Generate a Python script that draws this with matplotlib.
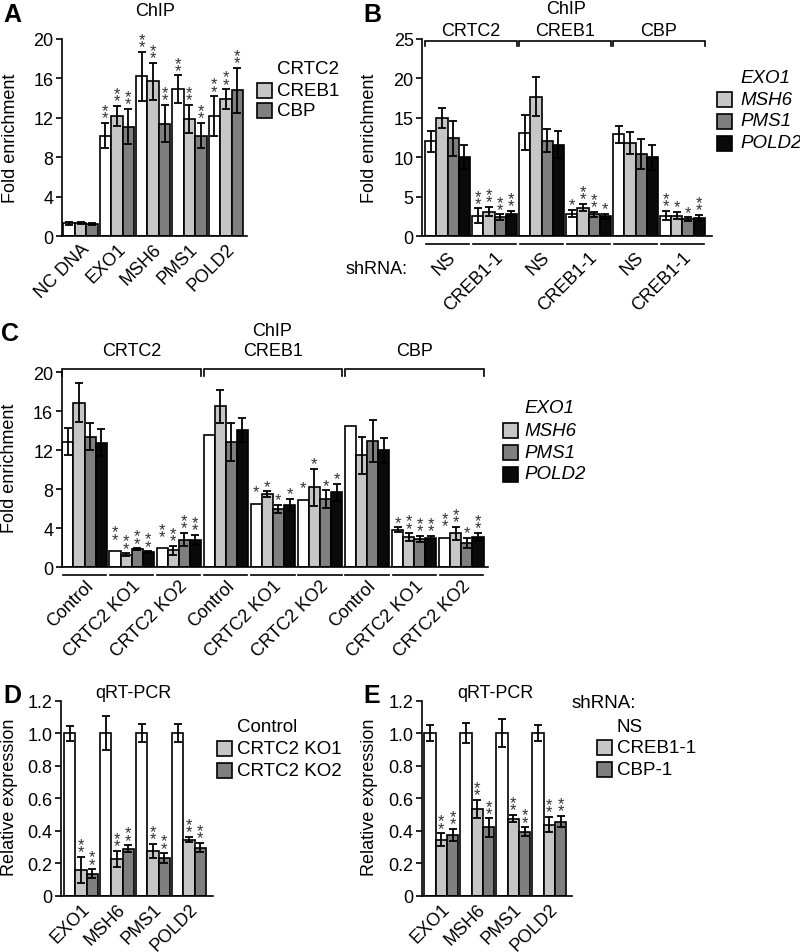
import matplotlib
matplotlib.use("Agg")
import matplotlib.pyplot as plt
from matplotlib.patches import Rectangle
from matplotlib.font_manager import FontProperties
import matplotlib.transforms as mtransforms
import numpy as np

plt.rcParams['font.family'] = ['Liberation Sans', 'DejaVu Sans']

# ---------------- data ----------------
A_groups = ["NC DNA", "EXO1", "MSH6", "PMS1", "POLD2"]
A_series = ["CRTC2", "CREB1", "CBP"]
A_vals = [[1.3, 10.2, 16.2, 14.9, 12.2],
          [1.3, 12.2, 15.7, 11.9, 13.9],
          [1.2, 11.1, 11.4, 10.2, 14.8]]
A_errs = [[0.15, 1.3, 2.5, 1.4, 2.0],
          [0.1, 1.0, 1.9, 1.4, 1.0],
          [0.1, 1.8, 1.9, 1.3, 2.3]]
A_stars = [["", "**", "**", "**", "**"],
           ["", "**", "**", "**", "**"],
           ["", "**", "**", "**", "**"]]

B_brackets = ["CRTC2", "CREB1", "CBP"]
B_groups = ["NS", "CREB1-1", "NS", "CREB1-1", "NS", "CREB1-1"]
B_series = ["EXO1", "MSH6", "PMS1", "POLD2"]
B_vals = [[12.0, 2.6, 13.1, 2.85, 12.9, 2.6],
          [15.0, 3.1, 17.7, 3.6, 11.8, 2.6],
          [12.4, 2.4, 12.1, 2.75, 10.4, 2.1],
          [10.0, 2.85, 11.6, 2.5, 10.0, 2.3]]
B_errs = [[1.3, 0.9, 2.2, 0.45, 1.1, 0.6],
          [1.3, 0.6, 2.5, 0.45, 1.4, 0.45],
          [2.2, 0.35, 1.5, 0.35, 1.9, 0.25],
          [1.5, 0.35, 1.75, 0.3, 1.6, 0.4]]
B_stars = [["", "**", "", "*", "", "**"],
           ["", "**", "", "**", "", "*"],
           ["", "**", "", "**", "", "*"],
           ["", "**", "", "*", "", "**"]]

C_brackets = ["CRTC2", "CREB1", "CBP"]
C_groups = ["Control", "CRTC2 KO1", "CRTC2 KO2"] * 3
C_series = ["EXO1", "MSH6", "PMS1", "POLD2"]
C_vals = [[12.9, 1.65, 1.95, 13.6, 6.5, 6.9, 14.5, 3.85, 3.0],
          [16.9, 1.3, 1.75, 16.5, 7.5, 8.2, 11.5, 3.1, 3.5],
          [13.4, 1.85, 2.85, 12.9, 6.0, 7.0, 12.95, 2.9, 2.5],
          [12.8, 1.55, 2.8, 14.1, 6.4, 7.7, 12.0, 3.05, 3.1]]
C_errs = [[1.4, 0, 0, 0, 0, 0, 0, 0.25, 0],
          [2.0, 0.15, 0.45, 1.7, 0.3, 1.9, 1.9, 0.4, 0.65],
          [1.4, 0.1, 0.7, 1.95, 0.4, 0.9, 2.15, 0.3, 0.55],
          [1.4, 0.1, 0.55, 1.2, 0.6, 0.85, 1.3, 0.15, 0.45]]
C_stars = [["", "**", "**", "", "*", "*", "", "*", "**"],
           ["", "**", "**", "", "*", "*", "", "**", "**"],
           ["", "**", "**", "", "*", "*", "", "**", "*"],
           ["", "**", "**", "", "*", "*", "", "**", "**"]]

D_groups = ["EXO1", "MSH6", "PMS1", "POLD2"]
D_series = ["Control", "CRTC2 KO1", "CRTC2 KO2"]
D_vals = [[1.0, 1.0, 1.0, 1.0],
          [0.16, 0.225, 0.275, 0.345],
          [0.135, 0.29, 0.232, 0.296]]
D_errs = [[0.045, 0.105, 0.055, 0.055],
          [0.08, 0.05, 0.045, 0.016],
          [0.028, 0.02, 0.03, 0.028]]
D_stars = [["", "", "", ""],
           ["**", "**", "**", "**"],
           ["**", "**", "**", "**"]]

E_groups = ["EXO1", "MSH6", "PMS1", "POLD2"]
E_series = ["NS", "CREB1-1", "CBP-1"]
E_vals = [[1.0, 1.0, 1.0, 1.0],
          [0.344, 0.536, 0.475, 0.438],
          [0.374, 0.42, 0.395, 0.456]]
E_errs = [[0.05, 0.06, 0.085, 0.05],
          [0.04, 0.055, 0.024, 0.048],
          [0.036, 0.056, 0.026, 0.036]]
E_stars = [["", "", "", ""],
           ["**", "**", "**", "**"],
           ["**", "**", "**", "**"]]

# ---------------- helpers ----------------
W, H = 800, 953
fig = plt.figure(figsize=(8, 9.53), dpi=100)
COL = ['white', '#c6c6c6', '#7f7f7f', '#0a0a0a']
LW = 1.2
TICK_FS = 13
LEG_FS = 13.5
STAR_FS = 12
STAR_BASE = -1.8      # points, offset of the lower star from the error-bar top
STAR_STEP_PX = 7.2    # pixels between stacked stars
STAR_NOERR = 5.0      # extra points when no error bar is drawn

# line spacing that puts stacked stars STAR_STEP_PX apart
_r = fig.canvas.get_renderer()
_, _lh, _ld = _r.get_text_width_height_descent(
    'lp', FontProperties(family='Liberation Sans', size=STAR_FS), ismath=False)
STAR_LS = max(0.05, (STAR_STEP_PX - _ld) / (_lh - _ld))


def fx(x):
    return x / W


def fy(y):
    return 1 - y / H


def px_axes(l, t, r, b):
    return fig.add_axes([l / W, 1 - b / H, (r - l) / W, (b - t) / H])


def style(ax, ymax, yticks, ylabels):
    ax.set_ylim(0, ymax)
    ax.spines[['top', 'right']].set_visible(False)
    for s in ['left', 'bottom']:
        ax.spines[s].set_linewidth(LW)
    ax.set_yticks(yticks, ylabels)
    ax.tick_params(axis='y', length=4, width=LW, labelsize=TICK_FS, pad=2)
    ax.tick_params(axis='x', length=0, labelsize=TICK_FS)
    ax.patch.set_alpha(0)


def draw_bars(ax, vals, errs, stars, offset, stride, xmax):
    n = len(vals)
    ng = len(vals[0])
    ax.set_xlim(0, xmax)
    starts = offset + stride * np.arange(ng)
    for i in range(n):
        x = starts + i + 0.5
        v = np.array(vals[i], float)
        e = np.array(errs[i], float)
        ax.bar(x, v, width=1.0, color=COL[i], edgecolor='black',
               linewidth=LW, zorder=2)
        m = e > 0
        ax.errorbar(x[m], v[m], yerr=e[m], fmt='none', ecolor='black',
                    elinewidth=1.3, capsize=3, capthick=1.3, zorder=3)
        for xi, vi, ei, s in zip(x, v, e, stars[i]):
            if not s:
                continue
            base = STAR_BASE + (0 if ei > 0 else STAR_NOERR)
            ax.annotate('\n'.join(s), xy=(xi, vi + ei), xytext=(0, base),
                        textcoords='offset points', ha='center',
                        va='bottom', fontsize=STAR_FS, linespacing=STAR_LS,
                        color='#333333', annotation_clip=False)
    return starts, starts + n, starts + n / 2


def yfrac(ypx, top, bot):
    return (bot - ypx) / (bot - top)


def brackets(ax, lefts, rights, labels, top, bot, ypx, tick_px, lab_px):
    tr = mtransforms.blended_transform_factory(ax.transData, ax.transAxes)
    for x0, x1, lab in zip(lefts, rights, labels):
        y0 = yfrac(ypx, top, bot)
        y1 = yfrac(ypx + tick_px, top, bot)
        ax.plot([x0, x0, x1, x1], [y1, y0, y0, y1], transform=tr,
                color='black', lw=LW, clip_on=False, solid_joinstyle='miter')
        ax.text((x0 + x1) / 2, yfrac(lab_px, top, bot), lab, transform=tr,
                ha='center', va='center', fontsize=TICK_FS)


def underlines(ax, lefts, rights, top, bot, ypx):
    tr = mtransforms.blended_transform_factory(ax.transData, ax.transAxes)
    y = yfrac(ypx, top, bot)
    for x0, x1 in zip(lefts, rights):
        ax.plot([x0 + 0.05, x1 - 0.05], [y, y], transform=tr, color='black',
                lw=LW, clip_on=False)


def legend(x_patch, x_text, ys, labels, italic=False):
    for i, (y, lab) in enumerate(zip(ys, labels)):
        if i > 0:
            fig.patches.append(Rectangle((fx(x_patch), fy(y + 7.5)), 15 / W,
                                         15 / H, transform=fig.transFigure,
                                         facecolor=COL[i], edgecolor='black',
                                         lw=LW))
        fig.text(fx(x_text), fy(y), lab, ha='left', va='center',
                 fontsize=LEG_FS, style='italic' if italic else 'normal')


def xlabels(ax, centers, labels, pad):
    ax.set_xticks(centers)
    ax.set_xticklabels(labels, rotation=45, ha='right',
                       rotation_mode='anchor')
    ax.tick_params(axis='x', pad=pad)


def letter(x, y, s):
    fig.text(fx(x), fy(y), s, ha='center', va='center', fontsize=18,
             fontweight='bold')


# ---------------- Panel A ----------------
aL, aT, aR, aB = 62, 40, 247, 237
axA = px_axes(aL, aT, aR, aB)
style(axA, 20, [0, 4, 8, 12, 16, 20], ['0', '4', '8', '12', '16', '20'])
wA = 11.5
s0, s1, cA = draw_bars(axA, A_vals, A_errs, A_stars, 1.3 / wA, 36.3 / wA,
                       (aR - aL) / wA)
xlabels(axA, cA, A_groups, 3)
fig.text(fx(11), fy(138), 'Fold enrichment', rotation=90, ha='center',
         va='center', fontsize=TICK_FS)
fig.text(fx(155), fy(11), 'ChIP', ha='center', va='center', fontsize=TICK_FS)
legend(257, 277, [70, 91, 111.5], A_series)
letter(12, 15, 'A')

# ---------------- Panel B ----------------
bL, bT, bR, bB = 422, 40, 712, 237
axB = px_axes(bL, bT, bR, bB)
style(axB, 25, [0, 5, 10, 15, 20, 25], ['0', '5', '10', '15', '20', '25'])
wB = 11.25
s0, s1, cB = draw_bars(axB, B_vals, B_errs, B_stars, 3 / wB, 47 / wB,
                       (bR - bL) / wB)
xlabels(axB, cB, B_groups, 9)
underlines(axB, s0, s1, bT, bB, 245)
brackets(axB, s0[0::2], s1[1::2], B_brackets, bT, bB, 42, 5, 32)
fig.text(fx(370), fy(138), 'Fold enrichment', rotation=90, ha='center',
         va='center', fontsize=TICK_FS)
fig.text(fx(566), fy(9), 'ChIP', ha='center', va='center', fontsize=TICK_FS)
fig.text(fx(407), fy(269), 'shRNA:', ha='right', va='center',
         fontsize=TICK_FS)
legend(717, 740, [79, 100.5, 122, 144], B_series, italic=True)
letter(372, 15, 'B')

# ---------------- Panel C ----------------
cL, cT, cR, cB_ = 61.5, 373.3, 488, 568.3
axC = px_axes(cL, cT, cR, cB_)
style(axC, 20, [0, 4, 8, 12, 16, 20], ['0', '4', '8', '12', '16', '20'])
wC = 11.1
s0, s1, cC = draw_bars(axC, C_vals, C_errs, C_stars, 0.8 / wC, 47.1 / wC,
                       (cR - cL) / wC)
xlabels(axC, cC, C_groups, 7)
underlines(axC, s0, s1, cT, cB_, 576)
brackets(axC, s0[0::3], s1[2::3], C_brackets, cT, cB_, 370, 7, 352)
fig.text(fx(10), fy(468), 'Fold enrichment', rotation=90, ha='center',
         va='center', fontsize=TICK_FS)
fig.text(fx(272), fy(331), 'ChIP', ha='center', va='center', fontsize=TICK_FS)
legend(503, 524, [408.5, 431.5, 453.5, 475], C_series, italic=True)
letter(10, 334, 'C')

# ---------------- Panel D ----------------
dL, dT, dR, dB = 61, 701.7, 213, 896.7
axD = px_axes(dL, dT, dR, dB)
style(axD, 1.2, [0, 0.2, 0.4, 0.6, 0.8, 1.0, 1.2],
      ['0', '0.2', '0.4', '0.6', '0.8', '1.0', '1.2'])
wD = 11.3
s0, s1, cD = draw_bars(axD, D_vals, D_errs, D_stars, 3 / wD, 36 / wD,
                       (dR - dL) / wD)
xlabels(axD, cD, D_groups, 3)
fig.text(fx(10), fy(797), 'Relative expression', rotation=90, ha='center',
         va='center', fontsize=TICK_FS)
fig.text(fx(133), fy(693), 'qRT-PCR', ha='center', va='center',
         fontsize=TICK_FS)
legend(217, 237, [727.5, 749.5, 771.5], D_series)
letter(12, 696, 'D')

# ---------------- Panel E ----------------
eL, eT, eR, eB = 422, 701.7, 572, 896.7
axE = px_axes(eL, eT, eR, eB)
style(axE, 1.2, [0, 0.2, 0.4, 0.6, 0.8, 1.0, 1.2],
      ['0', '0.2', '0.4', '0.6', '0.8', '1.0', '1.2'])
wE = 11.3
s0, s1, cE = draw_bars(axE, E_vals, E_errs, E_stars, 2.3 / wE, 36 / wE,
                       (eR - eL) / wE)
xlabels(axE, cE, E_groups, 3)
fig.text(fx(370), fy(797), 'Relative expression', rotation=90, ha='center',
         va='center', fontsize=TICK_FS)
fig.text(fx(495), fy(693), 'qRT-PCR', ha='center', va='center',
         fontsize=TICK_FS)
fig.text(fx(572), fy(703.5), 'shRNA:', ha='left', va='center',
         fontsize=LEG_FS)
legend(597, 617, [727.5, 748.5, 770.5], E_series)
letter(372, 696, 'E')

fig.savefig('out.png', dpi=100)
